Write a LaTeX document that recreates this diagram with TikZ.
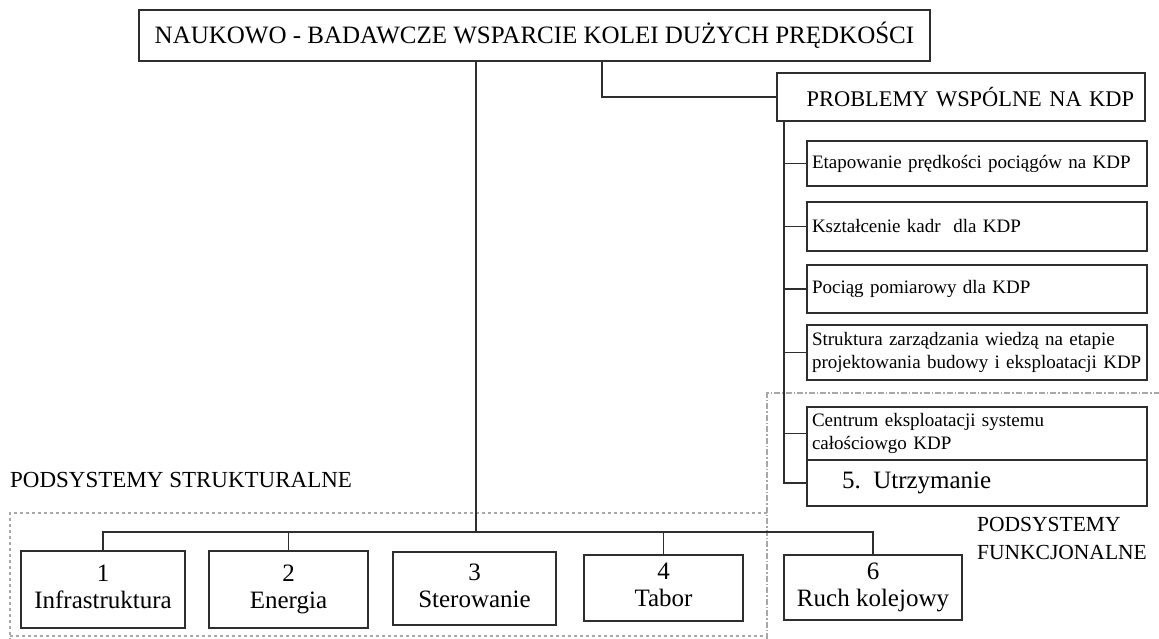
\documentclass[tikz,border=0pt]{standalone}
\usepackage{fontspec}
\setmainfont{Liberation Serif}
\definecolor{ln}{HTML}{2E2E2E}
\definecolor{dg}{HTML}{A8A8A8}
\begin{document}
\begin{tikzpicture}[x=1pt,y=-1pt,
  box/.style={draw=ln, line width=1.6pt, rectangle, inner sep=0pt, outer sep=0pt, align=center},
  subbox/.style={box, inner xsep=5pt, text width=330pt, align=left, minimum height=#1},
  conn/.style={draw=ln, line width=1.6pt},
  grpline/.style={draw=dg, line width=1.2pt, dash pattern=on 3pt off 3pt},
  grpline2/.style={draw=dg, line width=1.2pt, dash pattern=on 6pt off 2pt on 1.5pt off 2pt},
  lbl/.style={inner sep=0pt, align=left},
  big/.style={font=\fontsize{25}{27}\selectfont},
  mid/.style={font=\fontsize{22.4}{28}\selectfont},
  small/.style={font=\fontsize{19}{23}\selectfont}
]
\useasboundingbox[fill=white] (0,0) rectangle (1159,639);

% group frames
\draw[grpline] (767,513) -- (10,513) -- (10,639);
\draw[grpline] (10,636) -- (767,636);
\draw[grpline2] (767,639) -- (767,393) -- (1159,393);

% top
\node[box, big, minimum width=791pt, minimum height=51pt] (top) at (534.5,35.5)
  {NAUKOWO - BADAWCZE WSPARCIE KOLEI DUŻYCH PRĘDKOŚCI};

% common problems
\node[box, mid, inner xsep=11pt, text width=346pt, align=right, minimum height=48pt] (prob) at (961,97)
  {PROBLEMY WSPÓLNE NA KDP};
\node[subbox=45pt, small] (e) at (977,163.5) {Etapowanie prędkości pociągów na KDP};
\node[subbox=49pt, small] (k) at (977,226.5) {Kształcenie kadr\ \ dla KDP};
\node[subbox=48pt, small] (p) at (977,289) {Pociąg pomiarowy dla KDP};
\node[subbox=55pt, small] (s) at (977,352.5) {Struktura zarządzania wiedzą na etapie\\projektowania budowy i eksploatacji KDP};
\node[subbox=53pt, small] (c) at (977,433.5) {Centrum eksploatacji systemu\\całościowgo KDP};
\node[box, big, inner xsep=35pt, text width=270pt, align=left, minimum height=46pt] (u) at (977,483)
  {5. Utrzymanie};

% subsystems
\node[box, big, minimum width=164pt, minimum height=77pt] (b1) at (103,589.5) {\strut 1\\\strut Infrastruktura};
\node[box, big, minimum width=159pt, minimum height=77pt] (b2) at (288.5,589.5) {\strut 2\\\strut Energia};
\node[box, big, minimum width=163pt, minimum height=73pt] (b3) at (474.5,588.5) {\strut 3\\\strut Sterowanie};
\node[box, big, minimum width=159pt, minimum height=66pt] (b4) at (663.5,588) {\strut 4\\\strut Tabor};
\node[box, big, minimum width=178pt, minimum height=65pt] (b6) at (873,587.5) {\strut 6\\\strut Ruch kolejowy};

% labels
\node[lbl, font=\fontsize{23}{28}\selectfont, anchor=west] (ls) at (10,480) {PODSYSTEMY STRUKTURALNE};
\node[lbl, font=\fontsize{21.5}{28}\selectfont, anchor=north west] (lf) at (977,517) {PODSYSTEMY\\FUNKCJONALNE};

% connectors
\coordinate (tr) at (476,532);
\coordinate (cp) at (602,95);
\coordinate (sp) at (784,121);
\draw[conn] (tr |- top.south) -- (tr);
\draw[conn] (cp |- top.south) |- (prob.west);
\draw[conn] (sp |- prob.south) |- (u.west);
\foreach \n in {e,k,p,s,c} \draw[conn] (sp |- \n.west) -- (\n.west);
\draw[conn] (b1.north) -- (b1.north |- tr) -- (b6.north |- tr) -- (b6.north);
\draw[conn] (b2.north |- tr) -- (b2.north);
\draw[conn] (b4.north |- tr) -- (b4.north);
\end{tikzpicture}
\end{document}
